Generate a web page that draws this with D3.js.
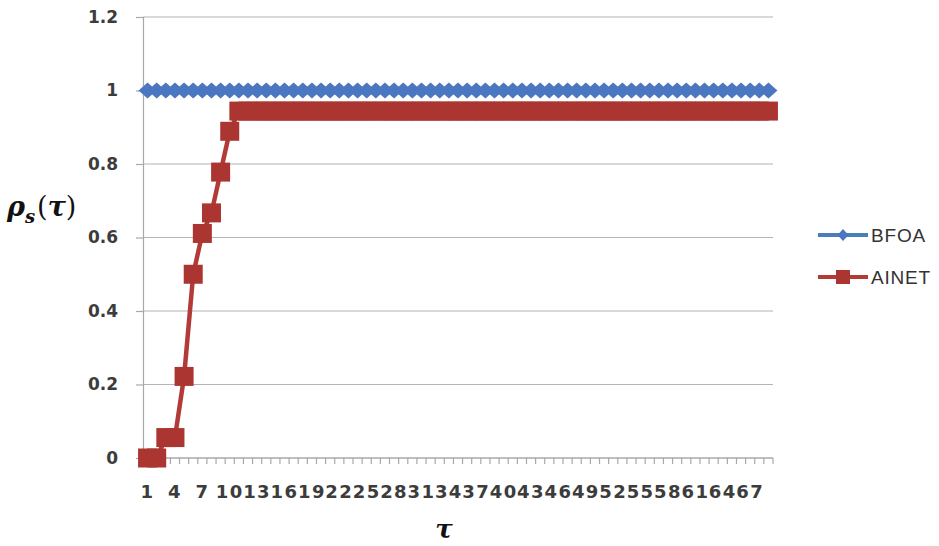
<!DOCTYPE html>
<html><head><meta charset="utf-8">
<script src="https://cdn.jsdelivr.net/npm/d3@7/dist/d3.min.js"></script>
<style>body{margin:0;background:#fff}svg{display:block}</style>
</head><body>
<svg id="c" width="939" height="546"></svg>
<script>
const categories = d3.range(1, 70);          // tau = 1..69
const bfoa = categories.map(() => 1);
const ainet = [0, 0, 0.0556, 0.0556, 0.222, 0.5, 0.611, 0.667, 0.778, 0.889]
  .concat(d3.range(59).map(() => 0.944));
const yTicks = [0, 0.2, 0.4, 0.6, 0.8, 1, 1.2];
const yTickLabels = ["0", "0.2", "0.4", "0.6", "0.8", "1", "1.2"];
const xTickLabels = categories.filter((d, i) => i % 3 === 0);
const seriesNames = ["BFOA", "AINET"];

const svg = d3.select("#c");
const x = d3.scaleBand().domain(categories).range([143, 773]);
const y = d3.scaleLinear().domain([0, 1.2]).range([458, 17]);
const blue = "#4A7EBB", blueM = "#4A77C0", red = "#B23B37", redM = "#AB3531";
const tickFont = "'DejaVu Sans', sans-serif";

// gridlines
svg.append("g").selectAll("line").data(yTicks.slice(1)).join("line")
  .attr("x1", 143).attr("x2", 773).attr("y1", d => y(d)).attr("y2", d => y(d))
  .attr("stroke", "#b4b4b4").attr("stroke-width", 1.2);

// y axis
const ya = svg.append("g").attr("transform", "translate(143,0)")
  .call(d3.axisLeft(y).tickValues(yTicks).tickFormat((d, i) => yTickLabels[i]).tickSize(7).tickPadding(18));
ya.select(".domain").attr("stroke", "#a8a8a8").attr("stroke-width", 1.2);
ya.selectAll(".tick line").attr("stroke", "#a8a8a8").attr("stroke-width", 1.2);
ya.selectAll("text").attr("font-family", tickFont).attr("font-weight", "bold")
  .attr("font-size", 17).attr("fill", "#3c3c3c");

// x axis with ticks at category boundaries
const xa = svg.append("g").attr("transform", "translate(0,458)");
xa.append("line").attr("x1", 143).attr("x2", 773).attr("stroke", "#a8a8a8").attr("stroke-width", 1.5);
const edges = categories.map(d => x(d)).concat([x(69) + x.bandwidth()]);
xa.selectAll("line.t").data(edges).join("line").attr("class", "t")
  .attr("x1", d => d).attr("x2", d => d)
  .attr("y1", 0).attr("y2", 6).attr("stroke", "#a8a8a8").attr("stroke-width", 1.2);
xa.selectAll("text").data(xTickLabels).join("text")
  .attr("x", d => x(d) + x.bandwidth() / 2).attr("y", 40)
  .attr("text-anchor", "middle").attr("font-family", tickFont).attr("font-weight", "bold")
  .attr("font-size", 18).attr("letter-spacing", 1.4).attr("fill", "#3c3c3c").text(d => d);

const cx = d => x(d) + x.bandwidth() / 2;
const line = d3.line().x((d, i) => cx(categories[i])).y(d => y(d));

// BFOA
svg.append("path").datum(bfoa).attr("d", line).attr("fill", "none")
  .attr("stroke", blue).attr("stroke-width", 4);
const diamond = (w, h) => `M0,${-h}L${w},0L0,${h}L${-w},0Z`;
svg.append("g").selectAll("path").data(bfoa).join("path")
  .attr("transform", (d, i) => `translate(${cx(categories[i])},${y(d)})`)
  .attr("d", diamond(9, 8)).attr("fill", blueM);

// AINET
svg.append("path").datum(ainet).attr("d", line).attr("fill", "none")
  .attr("stroke", red).attr("stroke-width", 4.5);
svg.append("g").selectAll("rect").data(ainet).join("rect")
  .attr("x", (d, i) => cx(categories[i]) - 9.5).attr("y", d => y(d) - 9.5)
  .attr("width", 19).attr("height", 19).attr("fill", redM);

// legend
const leg = svg.append("g");
const ly = [235, 277];
seriesNames.forEach((n, i) => {
  const g = leg.append("g").attr("transform", `translate(0,${ly[i]})`);
  g.append("line").attr("x1", 818).attr("x2", 868).attr("stroke", i ? red : blue).attr("stroke-width", 4);
  if (i === 0) g.append("path").attr("transform", "translate(843,0)").attr("d", diamond(5.5, 6)).attr("fill", blueM);
  else g.append("rect").attr("x", 836).attr("y", -7).attr("width", 14).attr("height", 14).attr("fill", redM);
  g.append("text").attr("x", 871).attr("y", 0).attr("dy", "0.36em")
    .attr("font-family", "'Liberation Sans', Arial, sans-serif").attr("font-size", 19)
    .attr("letter-spacing", 0.8).attr("fill", "#333").text(n);
});

// axis titles
const yt = svg.append("text").attr("x", 7).attr("y", 216)
  .attr("font-family", "'DejaVu Serif', serif").attr("font-size", 27).attr("fill", "#111");
yt.append("tspan").attr("font-weight", "bold").attr("font-style", "italic").text("ρ");
yt.append("tspan").attr("font-weight", "bold").attr("font-style", "italic").attr("font-size", 18).attr("dy", 7).text("s");
yt.append("tspan").attr("dy", -7).attr("dx", 2).text("(");
yt.append("tspan").attr("font-weight", "bold").attr("font-style", "italic").text("τ");
yt.append("tspan").text(")");

svg.append("text").attr("x", 444).attr("y", 538).attr("text-anchor", "middle")
  .attr("font-family", "'DejaVu Serif', serif").attr("font-size", 26).attr("font-weight", "bold")
  .attr("font-style", "italic").attr("fill", "#111").text("τ");
</script>
</body></html>
